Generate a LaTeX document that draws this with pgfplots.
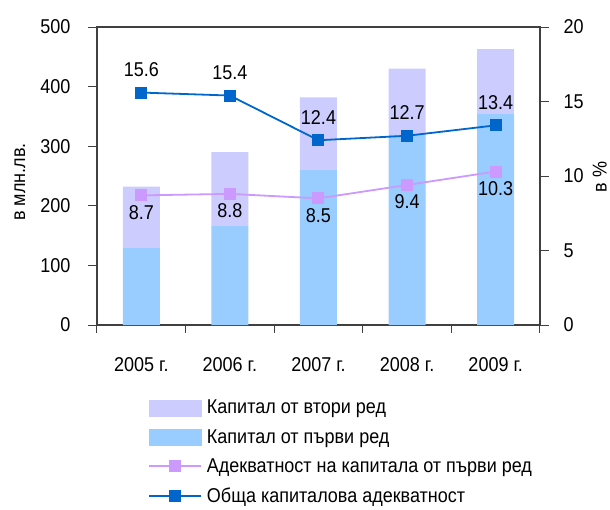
\documentclass[border=0pt]{standalone}
\usepackage{fontspec}
\setmainfont{Liberation Sans}[FakeStretch=0.9]
\usepackage{pgfplots}
\pgfplotsset{compat=1.18}
\definecolor{tierA}{HTML}{99CCFF}
\definecolor{tierB}{HTML}{CCCCFF}
\definecolor{lineP}{HTML}{CC99FF}
\definecolor{lineB}{HTML}{0066CC}
\definecolor{axgray}{HTML}{404040}

\pgfplotstableread{
x tierone tiertwo
0 129 103
1 166 124
2 260 122
3 319 111
4 354 109
}\capdata

\pgfplotstableread{
x total tierone
0 15.6 8.7
1 15.4 8.8
2 12.4 8.5
3 12.7 9.4
4 13.4 10.3
}\adqdata

\begin{document}
\begin{tikzpicture}[font=\fontsize{20}{23}\selectfont]
\useasboundingbox (-97pt,-184pt) rectangle (513pt,325pt);
\begin{axis}[
  scale only axis, width=443pt, height=298pt,
  xmin=-0.5, xmax=4.5, ymin=0, ymax=500,
  ytick={0,100,...,500},
  ytick pos=left, xtick pos=bottom,
  tick align=outside,
  major tick length=9pt,
  minor tick length=8pt,
  xtick={0,...,4},
  xticklabels={2005 г.,2006 г.,2007 г.,2008 г.,2009 г.},
  minor xtick={-0.5,0.5,...,4.5},
  major x tick style={draw=none},
  xticklabel style={yshift=-20pt},
  yticklabel style={xshift=-14pt},
  tick style={axgray, line width=1pt},
  axis line style={axgray, line width=1.2pt},
  /pgf/number format/assume math mode=true,
  ylabel={в млн.лв.},
  ylabel style={at={(axis description cs:-0.174,0.48)}, anchor=center},
  ybar stacked, bar width=37pt,
]
\addplot[fill=tierA, draw=none] table[x=x, y=tierone] {\capdata};
\addplot[fill=tierB, draw=none] table[x=x, y=tiertwo] {\capdata};
\end{axis}
\begin{axis}[
  scale only axis, width=443pt, height=298pt,
  xmin=-0.5, xmax=4.5, ymin=0, ymax=20,
  axis x line=none,
  axis y line*=right,
  ytick={0,5,...,20},
  yticklabel style={xshift=11pt},
  tick align=outside,
  major tick length=9pt,
  tick style={axgray, line width=1pt},
  axis line style={axgray, line width=1.2pt},
  /pgf/number format/assume math mode=true,
  ylabel={в \%},
  ylabel style={at={(axis description cs:1.135,0.497)}, anchor=center, rotate=0, inner sep=0pt},
  legend style={at={(0.115,-0.245)}, anchor=north west, draw=none, fill=none,
    row sep=10pt, inner sep=0pt, font=\fontsize{20}{23}\selectfont},
  legend cell align=left,
  /tikz/every odd column/.append style={column sep=3pt},
  legend image code/.code={\draw[mark repeat=2,mark phase=2,#1] plot coordinates {(0pt,0pt) (26pt,0pt) (52pt,0pt)};},
  nodes near coords,
  point meta=explicit,
]
\addlegendimage{legend image code/.code={\fill[tierB] (0pt,-8pt) rectangle (52pt,8pt);}}
\addlegendentry{Капитал от втори ред}
\addlegendimage{legend image code/.code={\fill[tierA] (0pt,-8pt) rectangle (52pt,8pt);}}
\addlegendentry{Капитал от първи ред}
\addplot[lineP, line width=1.8pt, mark=square*, mark size=5.5pt,
  mark options={fill=lineP, draw=lineP, line width=0pt},
  nodes near coords style={anchor=center, yshift=-17pt, text=black, font=\fontsize{20}{23}\selectfont,
    /pgf/number format/.cd, fixed, fixed zerofill, precision=1, assume math mode=true}]
  table[x=x, y=tierone, meta=tierone] {\adqdata};
\addlegendentry{Адекватност на капитала от първи ред}
\addplot[lineB, line width=1.8pt, mark=square*, mark size=5.5pt,
  mark options={fill=lineB, draw=lineB, line width=0pt},
  nodes near coords style={anchor=center, yshift=23pt, text=black, font=\fontsize{20}{23}\selectfont,
    /pgf/number format/.cd, fixed, fixed zerofill, precision=1, assume math mode=true}]
  table[x=x, y=total, meta=total] {\adqdata};
\addlegendentry{Обща капиталова адекватност}
\end{axis}
\end{tikzpicture}
\end{document}
